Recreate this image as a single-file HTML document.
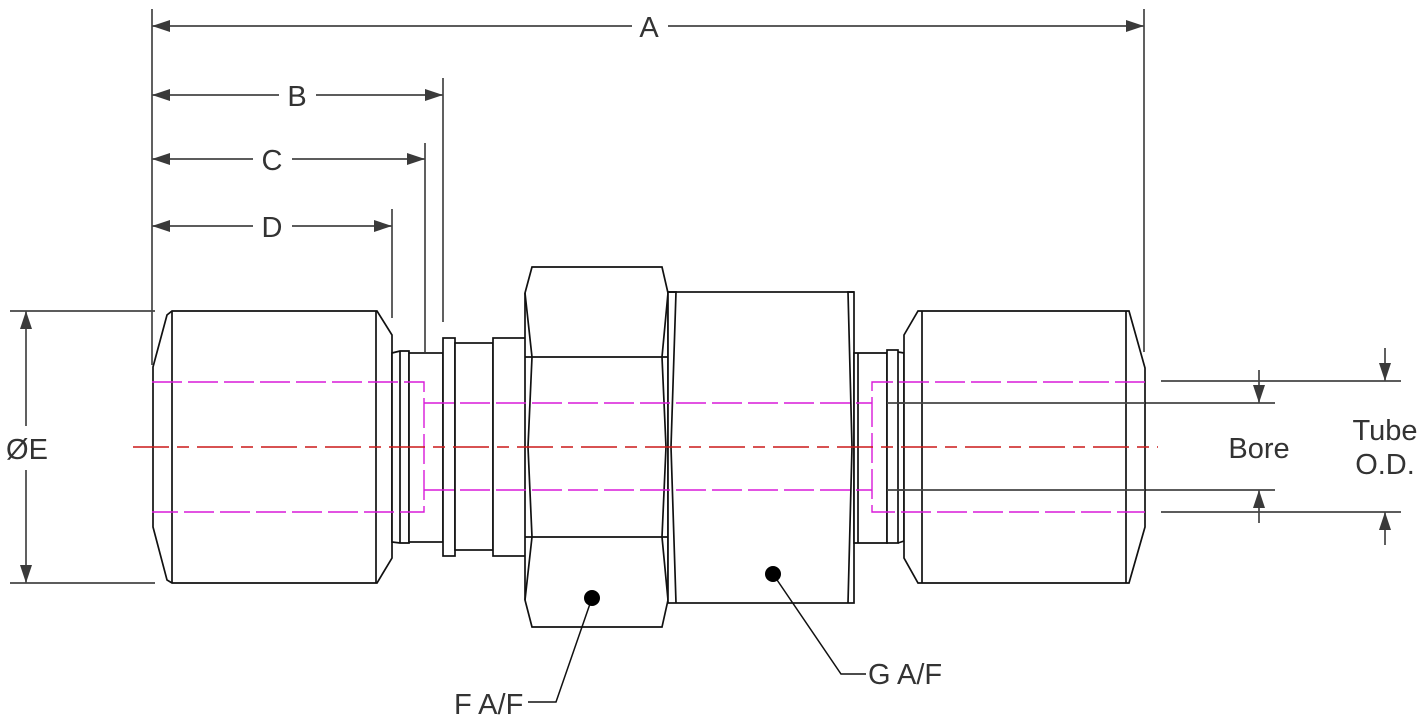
<!DOCTYPE html>
<html><head><meta charset="utf-8"><style>
html,body{margin:0;padding:0;background:#fff}
svg{display:block}
text{font-family:"Liberation Sans",sans-serif;font-size:29px;fill:#333}
</style></head><body>
<svg width="1425" height="719" viewBox="0 0 1425 719" xmlns="http://www.w3.org/2000/svg">
<defs>
<marker id="ar" viewBox="0 0 18 12" refX="18" refY="6" markerWidth="18" markerHeight="12" markerUnits="userSpaceOnUse" orient="auto"><path d="M0,0 L18,6 L0,12 z" fill="#3a3a3a"/></marker>
</defs>
<g stroke="#444" stroke-width="1.7" fill="none">
<line x1="152" y1="9" x2="152" y2="365"/>
<line x1="1144" y1="9" x2="1144" y2="352"/>
<line x1="443" y1="78" x2="443" y2="322"/>
<line x1="425" y1="143" x2="425" y2="352"/>
<line x1="392" y1="209" x2="392" y2="318"/>
<line x1="10" y1="311" x2="155" y2="311"/>
<line x1="10" y1="583" x2="155" y2="583"/>
<line x1="632" y1="26" x2="152" y2="26" marker-end="url(#ar)"/>
<line x1="668" y1="26" x2="1144" y2="26" marker-end="url(#ar)"/>
<line x1="279" y1="95" x2="152" y2="95" marker-end="url(#ar)"/>
<line x1="316" y1="95" x2="443" y2="95" marker-end="url(#ar)"/>
<line x1="253" y1="159" x2="152" y2="159" marker-end="url(#ar)"/>
<line x1="292" y1="159" x2="425" y2="159" marker-end="url(#ar)"/>
<line x1="253" y1="226" x2="152" y2="226" marker-end="url(#ar)"/>
<line x1="292" y1="226" x2="392" y2="226" marker-end="url(#ar)"/>
<line x1="26" y1="426" x2="26" y2="311" marker-end="url(#ar)"/>
<line x1="26" y1="470" x2="26" y2="583" marker-end="url(#ar)"/>
<line x1="887" y1="403" x2="1275" y2="403"/>
<line x1="887" y1="490" x2="1275" y2="490"/>
<line x1="1161" y1="381" x2="1401" y2="381"/>
<line x1="1161" y1="512" x2="1401" y2="512"/>
<line x1="1259" y1="370" x2="1259" y2="403" marker-end="url(#ar)"/>
<line x1="1259" y1="523" x2="1259" y2="490" marker-end="url(#ar)"/>
<line x1="1385" y1="348" x2="1385" y2="381" marker-end="url(#ar)"/>
<line x1="1385" y1="545" x2="1385" y2="512" marker-end="url(#ar)"/>
</g>
<g stroke="#111" stroke-width="1.7" fill="#fff">
<path d="M153,367 L167,315 L172,311 L377,311 L392,335 L392,558 L377,583 L172,583 L167,580 L153,527 Z"/>
<line x1="172" y1="311" x2="172" y2="583"/>
<line x1="376" y1="311" x2="376" y2="583"/>
<path d="M392,353 L400,351 L409,351 L409,543 L400,543 L392,542 Z"/>
<line x1="400" y1="351" x2="400" y2="543"/>
<rect x="409" y="353" width="34" height="189"/>
<rect x="443" y="338" width="12" height="218"/>
<rect x="455" y="343" width="38" height="207"/>
<rect x="493" y="338" width="34" height="218"/>
<path d="M532,267 L662,267 L668,293 L668,600 L662,627 L532,627 L525,600 L525,293 Z"/>
<line x1="525" y1="357" x2="668" y2="357"/>
<line x1="525" y1="537" x2="668" y2="537"/>
<path d="M525,293 L532,357 L528,447 L532,537 L525,600" fill="none"/>
<path d="M668,293 L662,357 L666,447 L662,537 L668,600" fill="none"/>
<rect x="668" y="292" width="186" height="311"/>
<path d="M668,292 L676,292 L671,447 L676,603" fill="none"/>
<path d="M854,292 L848,292 L852,447 L848,603" fill="none"/>
<path d="M854,353 L887,353 L887,543 L854,543 Z"/>
<line x1="858" y1="353" x2="858" y2="543"/>
<rect x="887" y="350" width="11" height="193"/>
<path d="M898,352 L904,353 L904,541 L898,543" fill="none"/>
<path d="M904,335 L918,311 L1129,311 L1145,368 L1145,527 L1129,583 L918,583 L904,558 Z"/>
<line x1="922" y1="311" x2="922" y2="583"/>
<line x1="1126" y1="311" x2="1126" y2="583"/>
<line x1="887" y1="403" x2="1145" y2="403" stroke="#444"/>
<line x1="887" y1="490" x2="1145" y2="490" stroke="#444"/>
</g>
<g stroke="#d81ad8" stroke-width="1.4" fill="none" stroke-dasharray="30,6">
<path d="M152,382 L424,382 L424,512 L152,512"/>
<line x1="424" y1="403" x2="872" y2="403"/>
<line x1="424" y1="490" x2="872" y2="490"/>
<path d="M1145,382 L872,382 L872,512 L1145,512"/>
</g>
<line x1="133" y1="447" x2="1158" y2="447" stroke="#cc1818" stroke-width="1.4" stroke-dasharray="36,8,12,8"/>
<g stroke="#111" stroke-width="1.5" fill="none">
<path d="M592,598 L556,702 L528,702"/>
<path d="M773,574 L841,674 L866,674"/>
</g>
<circle cx="592" cy="598" r="8" fill="#000"/>
<circle cx="773" cy="574" r="8" fill="#000"/>
<text x="649" y="37" text-anchor="middle">A</text>
<text x="297" y="106" text-anchor="middle">B</text>
<text x="272" y="170" text-anchor="middle">C</text>
<text x="272" y="237" text-anchor="middle">D</text>
<text x="27" y="459" text-anchor="middle">ØE</text>
<text x="1259" y="458" text-anchor="middle">Bore</text>
<text x="1385" y="440" text-anchor="middle">Tube</text>
<text x="1385" y="474" text-anchor="middle">O.D.</text>
<text x="454" y="714">F A/F</text>
<text x="868" y="684">G A/F</text>
</svg>
</body></html>
